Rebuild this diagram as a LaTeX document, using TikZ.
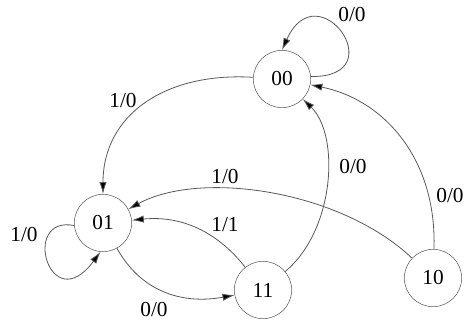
\documentclass[tikz,border=0pt]{standalone}
\usepackage{fontspec}
\setmainfont{Liberation Serif}
\usetikzlibrary{arrows.meta}

\begin{document}
\begin{tikzpicture}[x=0.75pt, y=-0.75pt,
        estado/.style={draw=black!65, circle, minimum size=43pt, inner sep=0pt, font=\fontsize{16}{19}\selectfont},
        etiq/.style={font=\fontsize{16}{19}\selectfont, inner sep=0pt},
        flecha/.style={draw=black!65, line width=0.6pt, -{Latex[length=9pt,width=5.5pt,fill=black]}}]
        \useasboundingbox (0,0) rectangle (465,322);
        % estados
        \node[estado] (s00) at (282,79) {00};
        \node[estado] (s01) at (103,223) {01};
        \node[estado] (s11) at (263,290) {11};
        \node[estado] (s10) at (433,278) {10};
        % transiciones
        \draw[flecha] (s00.5) .. controls (395,78) and (318,-30) .. (s00.north);
        \node[etiq] (e1) at (352,15) {0/0};
        \draw[flecha] (s00) .. controls (165,72) and (103,115) .. (s01);
        \node[etiq] (e2) at (123,101) {1/0};
        \draw[flecha] (s11) .. controls (335,230) and (340,135) .. (s00);
        \node[etiq] (e3) at (353,167) {0/0};
        \draw[flecha] (s10) .. controls (437,160) and (385,100) .. (s00);
        \node[etiq] (e4) at (450,196) {0/0};
        \draw[flecha] (s10) .. controls (340,190) and (200,170) .. (s01);
        \node[etiq] (e5) at (225,177) {1/0};
        \draw[flecha] (s11) .. controls (220,235) and (185,215) .. (s01);
        \node[etiq] (e6) at (225,225) {1/1};
        \draw[flecha] (s01) .. controls (140,290) and (180,305) .. (s11);
        \node[etiq] (e7) at (154,310) {0/0};
        \draw[flecha] (s01.185) .. controls (20,215) and (50,320) .. (s01.265);
        \node[etiq] (e8) at (24,235) {1/0};
\end{tikzpicture}
\end{document}
